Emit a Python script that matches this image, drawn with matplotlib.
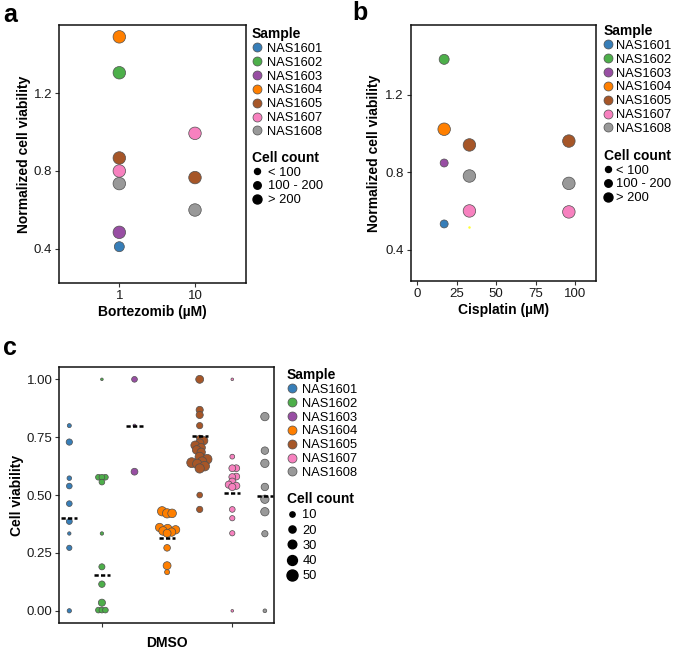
import numpy as np
import matplotlib
matplotlib.use("Agg")
import matplotlib.pyplot as plt
from matplotlib.lines import Line2D

plt.rcParams['font.family'] = ['Liberation Sans', 'DejaVu Sans']

W, H = 675, 650

samples = ['NAS1601', 'NAS1602', 'NAS1603', 'NAS1604', 'NAS1605', 'NAS1607', 'NAS1608']
colors = ['#377EB8', '#4DAF4A', '#984EA3', '#FF7F00', '#A65628', '#F781BF', '#999999']
count_bins = ['< 100', '100 - 200', '> 200']

# panel a: bortezomib
bort_sample = ['NAS1601', 'NAS1602', 'NAS1603', 'NAS1604', 'NAS1605', 'NAS1607', 'NAS1608',
               'NAS1605', 'NAS1607', 'NAS1608']
bort_dose = [1, 1, 1, 1, 1, 1, 1, 10, 10, 10]
bort_viab = [0.41, 1.306, 0.484, 1.491, 0.867, 0.80, 0.735, 0.766, 0.994, 0.599]
bort_count = ['100 - 200', '> 200', '> 200', '> 200', '> 200', '> 200', '> 200',
              '> 200', '> 200', '> 200']

# panel b: cisplatin
cis_sample = ['NAS1601', 'NAS1602', 'NAS1603', 'NAS1604', 'NAS1605', 'NAS1607', 'NAS1608',
              'NAS1605', 'NAS1607', 'NAS1608']
cis_dose = [17, 17, 17, 17, 33, 33, 33, 96, 96, 96]
cis_viab = [0.534, 1.382, 0.848, 1.022, 0.941, 0.601, 0.781, 0.961, 0.596, 0.743]
cis_count = ['< 100', '100 - 200', '< 100', '> 200', '> 200', '> 200', '> 200',
             '> 200', '> 200', '> 200']
# stray point (not in legend)
cis_extra_dose = [33]
cis_extra_viab = [0.517]

# panel c: DMSO single wells (viability, cell count)
v1601 = [0.80, 0.729, 0.573, 0.539, 0.463, 0.386, 0.334, 0.272, 0.0]
c1601 = [5, 15, 7, 12, 12, 13, 3, 10, 6]
v1602 = [1.0, 0.577, 0.577, 0.577, 0.556, 0.334, 0.19, 0.115, 0.035, 0.003, 0.003, 0.003]
c1602 = [1, 12, 12, 12, 12, 3, 14, 16, 20, 12, 12, 12]
v1603 = [1.0, 0.80, 0.601]
c1603 = [12, 2, 18]
v1604 = [0.43, 0.421, 0.421, 0.36, 0.355, 0.35, 0.345, 0.34, 0.335, 0.272, 0.195, 0.167]
c1604 = [35, 35, 30, 28, 30, 28, 30, 28, 25, 17, 25, 9]
v1605 = [1.0, 0.868, 0.846, 0.80, 0.745, 0.735, 0.725, 0.715, 0.705, 0.695, 0.685,
         0.665, 0.655, 0.645, 0.64, 0.635, 0.625, 0.615, 0.50, 0.438]
c1605 = [25, 20, 20, 15, 15, 28, 28, 30, 28, 30, 28, 35, 38, 35, 40, 35, 38, 35, 12, 15]
v1607 = [1.0, 0.666, 0.616, 0.616, 0.58, 0.578, 0.558, 0.545, 0.54, 0.535, 0.438, 0.40, 0.335, 0.0]
c1607 = [1, 8, 18, 18, 18, 18, 20, 20, 20, 20, 12, 10, 10, 1]
v1608 = [0.839, 0.692, 0.637, 0.535, 0.482, 0.428, 0.333, 0.0]
c1608 = [28, 22, 28, 22, 28, 28, 15, 4]
dmso_mid = [0.399, 0.153, 0.80, 0.316, 0.755, 0.507, 0.497]
size_ticks = [10, 20, 30, 40, 50]

dmso_viab = [v1601, v1602, v1603, v1604, v1605, v1607, v1608]
dmso_count = [c1601, c1602, c1603, c1604, c1605, c1607, c1608]

color_of = dict(zip(samples, colors))
bin_px = {'< 100': 8, '100 - 200': 10, '> 200': 12.5}
EDGE = '#505050'


def px2pt2(d):
    return (d * 0.72) ** 2


def count_px(c):
    return np.sqrt(4.7 + 2.33 * np.asarray(c, dtype=float))


def fig_rect(l, t, r, b):
    return [l / W, 1 - b / H, (r - l) / W, (b - t) / H]


def style(ax):
    for s in ax.spines.values():
        s.set_linewidth(1.1)
        s.set_color('#111111')
    ax.tick_params(length=3, width=0.8, color='#333333', labelsize=9.5, pad=2,
                   labelcolor='#1a1a1a')


def legends(ax, x, y1, y2, labels, sizes, hl=0.8, tp=0.4, sp2=0.13):
    lw = dict(frameon=False, fontsize=9.3, handlelength=hl, handletextpad=tp,
              borderpad=0, borderaxespad=0, alignment='left',
              loc='upper left', bbox_transform=fig.transFigure,
              title_fontproperties={'weight': 'bold', 'size': 10})
    h1 = [Line2D([], [], ls='', marker='o', markersize=9 * 0.72, markerfacecolor=c,
                 markeredgecolor=EDGE, markeredgewidth=0.5) for c in colors]
    l1 = ax.legend(h1, samples, title='Sample', bbox_to_anchor=(x / W, 1 - y1 / H),
                   labelspacing=0.14, **lw)
    ax.add_artist(l1)
    h2 = [Line2D([], [], ls='', marker='o', markersize=d * 0.72, color='black') for d in sizes]
    ax.legend(h2, labels, title='Cell count', bbox_to_anchor=(x / W, 1 - y2 / H),
              labelspacing=sp2, **lw)


fig = plt.figure(figsize=(W / 100, H / 100), dpi=100)

# ---- panel a
ax = fig.add_axes(fig_rect(59, 25, 246, 283))
style(ax)
ax.scatter(bort_dose, bort_viab, c=[color_of[s] for s in bort_sample],
           s=[px2pt2(bin_px[b]) for b in bort_count], edgecolors=EDGE, linewidths=0.5, zorder=3)
ax.set_xscale('log')
ax.set_xlim(10 ** -0.797, 10 ** 1.674)
ax.set_xticks([1, 10])
ax.set_xticklabels(['1', '10'])
ax.minorticks_off()
ax.set_ylim(0.223, 1.552)
ax.set_yticks([0.4, 0.8, 1.2])
ax.set_yticklabels(['0.4', '0.8', '1.2'])
ax.set_xlabel('Bortezomib (µM)', fontweight='bold', fontsize=10, labelpad=2)
ax.set_ylabel('Normalized cell viability', fontweight='bold', fontsize=10, labelpad=2)
legends(ax, 252, 27, 151, count_bins, [6, 7.5, 9])
fig.text(3 / W, 1 - 22 / H, 'a', fontsize=18, fontweight='bold', va='baseline')

# ---- panel b
ax = fig.add_axes(fig_rect(410.7, 25, 595.7, 281))
style(ax)
ax.scatter(cis_dose, cis_viab, c=[color_of[s] for s in cis_sample],
           s=[px2pt2(bin_px[b]) for b in cis_count], edgecolors=EDGE, linewidths=0.5, zorder=3)
ax.scatter(cis_extra_dose, cis_extra_viab, c='#FFFF33', s=px2pt2(2.5), linewidths=0, zorder=3)
ax.set_xlim(-4.2, 113)
ax.set_xticks([0, 25, 50, 75, 100])
ax.set_ylim(0.240, 1.559)
ax.set_yticks([0.4, 0.8, 1.2])
ax.set_yticklabels(['0.4', '0.8', '1.2'])
ax.set_xlabel('Cisplatin (µM)', fontweight='bold', fontsize=10, labelpad=2)
ax.set_ylabel('Normalized cell viability', fontweight='bold', fontsize=10, labelpad=3)
legends(ax, 604, 24, 149, count_bins, [6, 7.5, 9], hl=0.6, tp=0.3)
fig.text(352 / W, 1 - 20 / H, 'b', fontsize=18, fontweight='bold', va='baseline')

# ---- panel c
ax = fig.add_axes(fig_rect(59.3, 367.3, 274, 623.3))
style(ax)
ax.set_xlim(-0.307, 6.28)
ax.set_ylim(-0.054, 1.052)
bb = ax.get_window_extent()
xpx = bb.width / (6.28 + 0.307)
ypx = bb.height / (1.052 + 0.054)


def swarm(y, r, k=0.55):
    off = np.zeros(len(y))
    done = []
    steps = np.concatenate([[0], np.repeat(np.arange(0.5, 40, 0.5), 2) * np.tile([1, -1], 79)])
    for i in np.argsort(y):
        for dx in steps:
            if all(np.hypot(dx - off[j], y[i] - y[j]) >= k * (r[i] + r[j]) for j in done):
                break
        off[i] = dx
        done.append(i)
    return off


for i, (vals, cnts) in enumerate(zip(dmso_viab, dmso_count)):
    vals = np.asarray(vals)
    d = count_px(cnts)
    dx = swarm(vals * ypx, d / 2)
    ax.scatter(i + dx / xpx, vals, s=px2pt2(d), c=colors[i], edgecolors=EDGE,
               linewidths=0.5, zorder=3)
    ax.plot([i - 0.25, i + 0.25], [dmso_mid[i], dmso_mid[i]], color='black', lw=1.8,
            ls=(0, (1.7, 0.9)), zorder=5)

ax.set_xticks([1, 5])
ax.set_xticklabels(['', ''])
ax.set_yticks([0, 0.25, 0.5, 0.75, 1.0])
ax.set_yticklabels(['0.00', '0.25', '0.50', '0.75', '1.00'])
ax.set_xlabel('DMSO', fontweight='bold', fontsize=10, labelpad=4)
ax.set_ylabel('Cell viability', fontweight='bold', fontsize=10, labelpad=2)
legends(ax, 286.7, 368, 492, [str(t) for t in size_ticks], list(count_px(size_ticks)), sp2=0.25)
fig.text(3 / W, 1 - 355 / H, 'c', fontsize=18, fontweight='bold', va='baseline')

fig.savefig('out.png', dpi=100)
